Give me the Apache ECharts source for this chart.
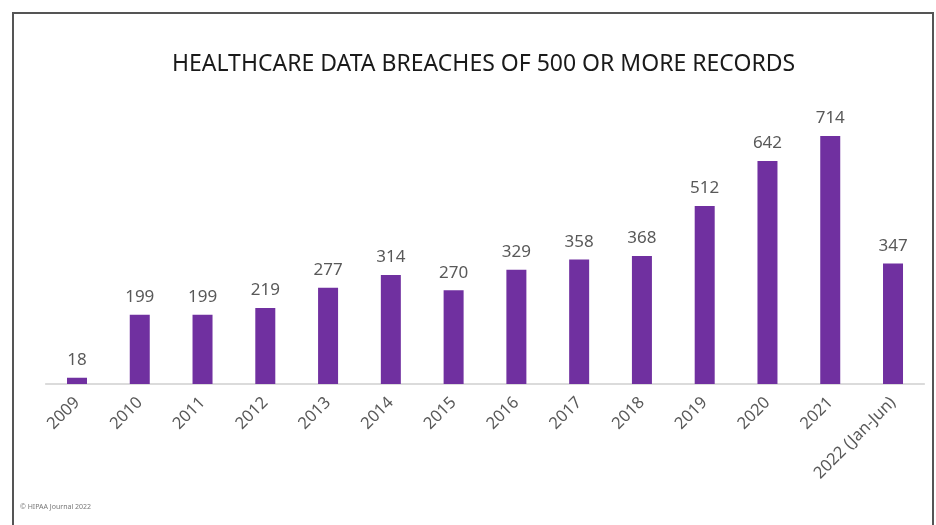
<!DOCTYPE html>
<html>
<head>
<meta charset="utf-8" />
<script src="https://cdn.jsdelivr.net/npm/echarts@6/dist/echarts.min.js"></script>
<title>Healthcare data breaches</title>
<style>
  html, body { margin: 0; padding: 0; background: #fff; }
  #main { width: 936px; height: 525px; }
</style>
</head>
<body>
<div id="main"></div>
<script type="text/javascript">
var years = ['2009', '2010', '2011', '2012', '2013', '2014', '2015', '2016', '2017', '2018', '2019', '2020', '2021', '2022 (Jan-Jun)'];
var breaches = [18, 199, 199, 219, 277, 314, 270, 329, 358, 368, 512, 642, 714, 347];

var myChart = echarts.init(document.getElementById('main'));
var option = {
    animation: false,
    title: {
        text: 'HEALTHCARE DATA BREACHES OF 500 OR MORE RECORDS',
        left: 167,
        top: 48,
        textStyle: {
            color: '#1a1a1a',
            fontSize: 23,
            fontWeight: 'normal',
            fontFamily: 'Noto Sans'
        }
    },
    graphic: [
        {
            type: 'rect',
            shape: { x: 13, y: 13, width: 920, height: 530 },
            style: { fill: 'none', stroke: '#555', lineWidth: 2 }
        },
        {
            type: 'text',
            left: 20,
            top: 503,
            style: { text: '© HIPAA Journal 2022', fill: '#777', fontSize: 7, fontFamily: 'Noto Sans' }
        }
    ],
    grid: {
        left: 45.6,
        right: 11.6,
        top: 106,
        bottom: 141
    },
    xAxis: {
        type: 'category',
        data: years,
        axisLine: { lineStyle: { color: '#d0d0d0', width: 1.5 } },
        axisTick: { show: false },
        axisLabel: {
            rotate: 45,
            interval: 0,
            margin: 16,
            color: '#595959',
            fontSize: 16.5,
            fontFamily: 'Noto Sans'
        }
    },
    yAxis: {
        type: 'value',
        min: 0,
        max: 800,
        show: false
    },
    series: [{
        name: 'Breaches',
        type: 'bar',
        data: breaches,
        barWidth: 20,
        itemStyle: { color: '#7030a0' },
        label: {
            show: true,
            position: 'top',
            distance: 9,
            color: '#595959',
            fontSize: 17,
            fontFamily: 'Noto Sans'
        }
    }]
};
myChart.setOption(option);
</script>
</body>
</html>
